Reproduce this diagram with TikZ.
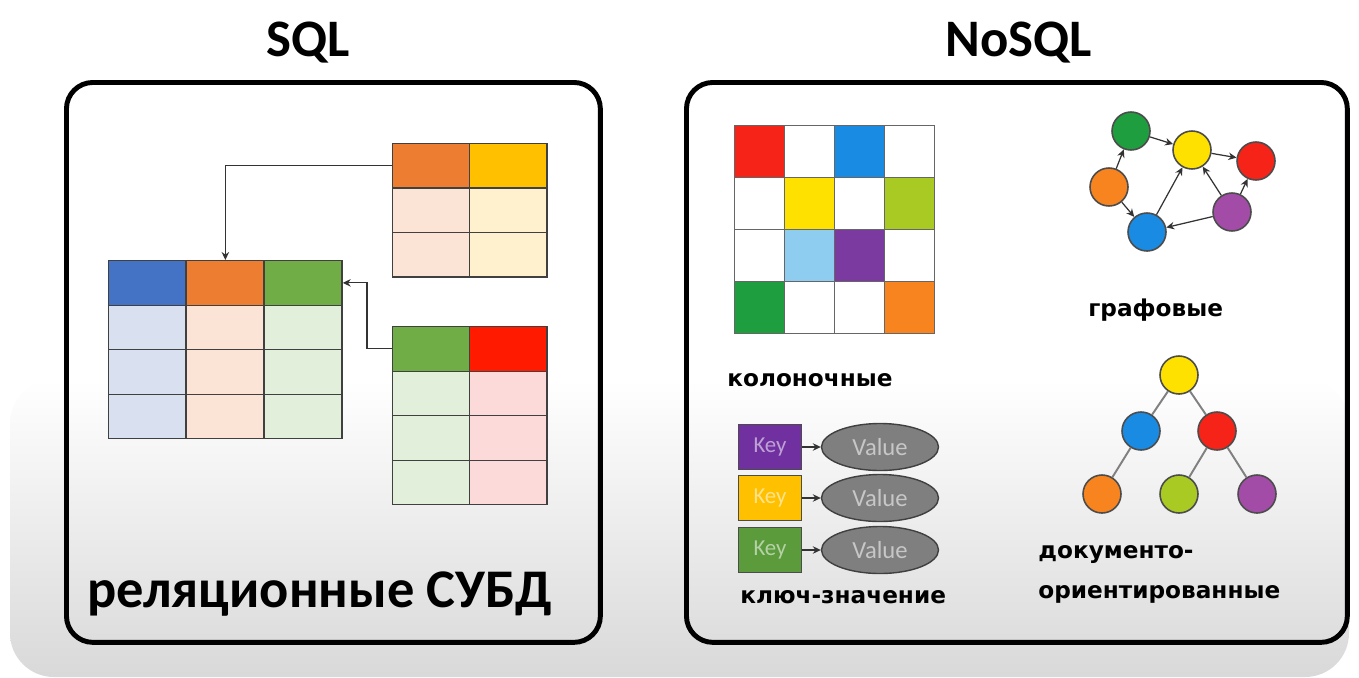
\documentclass[tikz,border=0pt]{standalone}
\usepackage{fontspec}
\setmainfont{Carlito}
\newfontfamily\lblfont{DejaVu Sans}
\usetikzlibrary{arrows.meta, positioning, shapes.geometric}

% table colours
\definecolor{tblue}{HTML}{4472C4}   \definecolor{tblueL}{HTML}{D9E1F0}
\definecolor{torange}{HTML}{ED7D31} \definecolor{torangeL}{HTML}{FBE3D5}
\definecolor{tgreen}{HTML}{70AD47}  \definecolor{tgreenL}{HTML}{E2EFDA}
\definecolor{tgold}{HTML}{FFC000}   \definecolor{tgoldL}{HTML}{FFF1CE}
\definecolor{tred}{HTML}{FF1A00}    \definecolor{tredL}{HTML}{FCDADA}
% NoSQL colours
\definecolor{cred}{HTML}{F52318}    \definecolor{cblue}{HTML}{1A8BE3}
\definecolor{cyellow}{HTML}{FFE100} \definecolor{clime}{HTML}{A9C923}
\definecolor{clblue}{HTML}{8ECDF0}  \definecolor{cpurple}{HTML}{7B3AA0}
\definecolor{cgreen}{HTML}{1E9E3E}  \definecolor{corange}{HTML}{F7841F}
\definecolor{cviolet}{HTML}{A24CA8}
\definecolor{kpurple}{HTML}{7030A0} \definecolor{kgold}{HTML}{FFC000}
\definecolor{kgreen}{HTML}{5B9B3B}  \definecolor{vgray}{HTML}{7F7F7F}

\begin{document}
\begin{tikzpicture}[x=0.02cm, y=-0.02cm,
  % Text styles
  title/.style={font=\bfseries\fontsize{30}{36}\selectfont, anchor=base},
  caption/.style={font=\lblfont\bfseries\fontsize{13.2}{16}\selectfont, anchor=base west, inner sep=0pt},
  % Box and cell styles
  panel/.style={draw=black, line width=2.8pt, rounded corners=15pt, anchor=north west, inner sep=0pt},
  cell/.style={draw=black!75, line width=0.7pt, minimum width=1.55cm, minimum height=0.89cm,
               inner sep=0pt, anchor=north west},
  gcell/.style={draw=black!60, line width=0.8pt, minimum width=1.0cm, minimum height=1.04cm,
                inner sep=0pt, anchor=north west},
  dot/.style={circle, draw=black!70, line width=0.9pt, minimum size=0.76cm, inner sep=0pt},
  key/.style={draw=black!70, line width=0.7pt, minimum width=1.26cm, minimum height=0.9cm,
              inner sep=0pt, font=\fontsize{13}{15}\selectfont, text=white, text opacity=0.55},
  val/.style={ellipse, draw=black!75, line width=0.8pt, fill=vgray, minimum width=2.34cm,
              minimum height=0.94cm, inner sep=0pt, font=\fontsize{14}{16}\selectfont, text=black!22},
  % Connector styles
  arr/.style={-{Stealth[length=1.6mm, width=1.5mm]}, line width=0.7pt, black!80},
  link/.style={line width=1.1pt, black!50},
]
  \useasboundingbox (0,0) rectangle (1359,677);

  % background
  \fill[white] (0,0) rectangle (1359,677);
  \shade[top color=white, bottom color=black!15, rounded corners=25pt]
    (10,380) rectangle (1349,677);

  % ── SQL side ──
  \node[title] (sqltitle) at (308,56) {SQL};
  \node[panel, minimum width=10.68cm, minimum height=11.2cm] (sqlbox) at (64,80) {};

  % main table
  \foreach \hc/\bc [count=\c from 0] in {tblue/tblueL, torange/torangeL, tgreen/tgreenL} {
    \node[cell, fill=\hc] (main-0-\c) at ({108+78*\c},260) {};
    \foreach \r in {1,2,3}
      \node[cell, fill=\bc] (main-\r-\c) at ({108+78*\c},{260+44.5*\r}) {};
  }
  % top table
  \foreach \hc/\bc [count=\c from 0] in {torange/torangeL, tgold/tgoldL} {
    \node[cell, fill=\hc] (top-0-\c) at ({392+77*\c},143) {};
    \foreach \r in {1,2}
      \node[cell, fill=\bc] (top-\r-\c) at ({392+77*\c},{143+44.5*\r}) {};
  }
  % bottom table
  \foreach \hc/\bc [count=\c from 0] in {tgreen/tgreenL, tred/tredL} {
    \node[cell, fill=\hc] (bot-0-\c) at ({392+77*\c},326) {};
    \foreach \r in {1,2,3}
      \node[cell, fill=\bc] (bot-\r-\c) at ({392+77*\c},{326+44.5*\r}) {};
  }

  \draw[arr] (top-0-0.west) -| (main-0-1.north);
  \draw[arr] (bot-0-0.west) -- ++(-25,0) |- (main-0-2.east);

  \node[font=\bfseries\fontsize{31}{37}\selectfont, anchor=base west, inner sep=0pt]
    (rdbms) at (87,607) {реляционные СУБД};

  % ── NoSQL side ──
  \node[title] (nosqltitle) at (1019,56) {NoSQL};
  \node[panel, minimum width=13.22cm, minimum height=11.2cm] (nosqlbox) at (684,80) {};

  % column store
  \foreach \fc [count=\i from 0] in {cred,white,cblue,white, white,cyellow,white,clime,
                                     white,clblue,cpurple,white, cgreen,white,white,corange} {
    \pgfmathtruncatemacro{\r}{int(\i/4)}
    \pgfmathtruncatemacro{\c}{mod(\i,4)}
    \node[gcell, fill=\fc] (col-\r-\c) at ({734+50*\c},{125+52*\r}) {};
  }
  \node[caption] (collbl) at (727,386) {колоночные};

  % graph
  \node[dot, fill=cgreen]  (grn) at (1131,131) {};
  \node[dot, fill=cyellow] (yel) at (1192,150) {};
  \node[dot, fill=cred]    (red) at (1256,161) {};
  \node[dot, fill=corange] (org) at (1109,187) {};
  \node[dot, fill=cviolet] (pur) at (1232,212) {};
  \node[dot, fill=cblue]   (blu) at (1147,232) {};
  \draw[arr] (org) -- (grn);
  \draw[arr] (grn) -- (yel);
  \draw[arr] (yel) -- (red);
  \draw[arr] (org) -- (blu);
  \draw[arr] (blu) -- (yel);
  \draw[arr] (pur) -- (yel);
  \draw[arr] (pur) -- (red);
  \draw[arr] (pur) -- (blu);
  \node[caption] (graphlbl) at (1088,316) {графовые};

  % key-value
  \foreach \kc/\y [count=\i] in {kpurple/447, kgold/498, kgreen/550} {
    \node[key, fill=\kc] (key\i) at (770,\y) {Key};
    \node[val] (val\i) at (880,\y) {Value};
    \draw[arr] (key\i) -- (val\i);
  }
  \node[caption] (kvlbl) at (740,603) {ключ-значение};

  % document tree
  \node[dot, fill=cyellow] (troot) at (1179,375) {};
  \node[dot, fill=cblue]   (tl)    at (1141,431) {};
  \node[dot, fill=cred]    (tr)    at (1217,431) {};
  \node[dot, fill=corange] (tll)   at (1102,494) {};
  \node[dot, fill=clime]   (trm)   at (1179,494) {};
  \node[dot, fill=cviolet] (trr)   at (1257,494) {};
  \draw[link] (troot) -- (tl);
  \draw[link] (troot) -- (tr);
  \draw[link] (tl) -- (tll);
  \draw[link] (tr) -- (trm);
  \draw[link] (tr) -- (trr);
  \node[caption] (doclbl) at (1038,558) {документо-};
  \node[caption] (doclbl2) at (1038,598) {ориентированные};
\end{tikzpicture}
\end{document}
